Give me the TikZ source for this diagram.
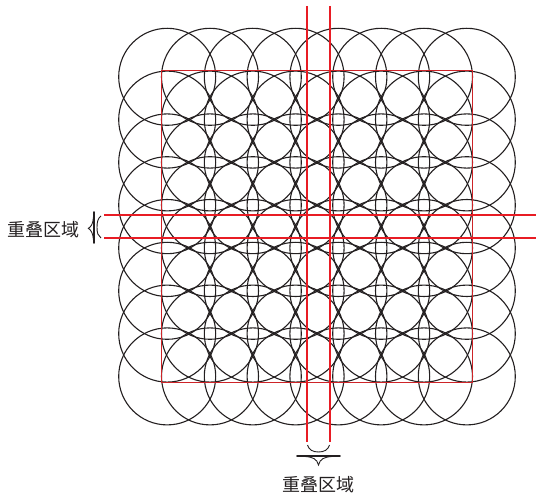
\documentclass[tikz,border=0pt]{standalone}
\usepackage{fontspec}
\newfontfamily\cjk{Noto Sans CJK SC}
\definecolor{linered}{RGB}{232,28,36}
\definecolor{sqred}{RGB}{205,36,40}
\definecolor{ink}{RGB}{35,31,32}
\begin{document}
\begin{tikzpicture}[x=1pt,y=-1pt,
  circ/.style={draw=ink, line width=1.1pt},
  sqline/.style={draw=sqred, line width=1.5pt},
  redline/.style={draw=linered, line width=1.9pt},
  bracethin/.style={draw=ink, line width=0.9pt},
  bracethick/.style={draw=ink, line width=1.7pt},
  lbl/.style={font=\cjk\fontsize{18}{18}\selectfont, text=ink, inner sep=0pt}]
\useasboundingbox (0,0) rectangle (536,497);
% circles
\foreach \i in {0,...,7}{
  \foreach \j in {0,...,7}{
    \draw[circ] (167.2+42.8*\i, 76.8+42.8*\j) circle[radius=48.5pt];
  }
}
% square
\draw[sqline] (161.7,70.7) rectangle (472.7,382.7);
% overlap lines
\coordinate (v1t) at (307,6);
\coordinate (v1b) at (307,442);
\coordinate (v2t) at (330,6);
\coordinate (v2b) at (330,442);
\coordinate (h1l) at (104,215.2);
\coordinate (h1r) at (536,215.2);
\coordinate (h2l) at (104,238.1);
\coordinate (h2r) at (536,238.1);
\draw[redline] (v1t) -- (v1b);
\draw[redline] (v2t) -- (v2b);
\draw[redline] (h1l) -- (h1r);
\draw[redline] (h2l) -- (h2r);
% bottom brace
\coordinate (bu1) at (307.5,445);
\coordinate (bu2) at (329.5,445);
\draw[bracethin] (bu1) .. controls (309,450) and (313,452) .. (318.5,452)
  .. controls (324,452) and (328,450) .. (bu2);
\draw[bracethick, line cap=round] (297,455.7) -- (340,455.7);
\draw[bracethin] (305,456.5) .. controls (313,457) and (317,459) .. (318.5,465)
  .. controls (320,459) and (324,457) .. (332,456.5);
% left brace
\coordinate (lb1) at (101,216);
\coordinate (lb2) at (101,238);
\draw[bracethin] (lb1) .. controls (98,218) and (97,222) .. (97,227.3)
  .. controls (97,233) and (98,236) .. (lb2);
\draw[bracethick, line cap=round] (94,212) -- (94,243);
\draw[bracethin] (93.5,217) .. controls (93,224) and (91,227) .. (88.3,228.3)
  .. controls (91,230) and (93,233) .. (93.5,240);
% labels
\node[lbl] (lblleft) at (43.5,230) {重叠区域};
\node[lbl] (lblbottom) at (318.5,485) {重叠区域};
\end{tikzpicture}
\end{document}
